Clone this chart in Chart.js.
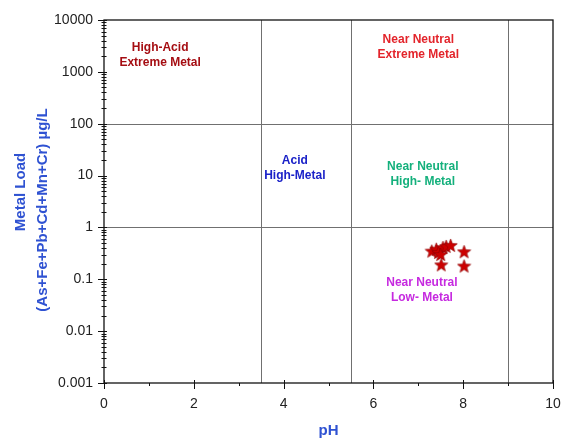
<!DOCTYPE html>
<html><head><meta charset="utf-8">
<script src="https://cdn.jsdelivr.net/npm/chart.js@4.4.1/dist/chart.umd.min.js"></script>
<style>html,body{margin:0;padding:0;background:#fff}#wrap{width:562px;height:439px}</style>
</head><body><div id="wrap"><canvas id="c" width="562" height="439"></canvas></div>
<script>
// ---- data ----
const phValues    = [7.30, 7.40, 7.45, 7.55, 7.62, 7.72, 7.50, 7.51, 8.02, 8.02];
const metalValues = [0.35, 0.38, 0.33, 0.41, 0.43, 0.45, 0.30, 0.19, 0.34, 0.18];
const xTicks = [0, 2, 4, 6, 8, 10];
const xMinorTicks = [1, 3, 5, 7, 9];
const yTicks = [0.001, 0.01, 0.1, 1, 10, 100, 1000, 10000];
const yTickLabels = ['0.001', '0.01', '0.1', '1', '10', '100', '1000', '10000'];
const yMinorMult = [2, 3, 4, 5, 6, 7, 8, 9];
const phBoundaries = [3.5, 5.5, 9];
const metalBoundaries = [1, 100];
const zoneLines = [
  ['High-Acid', 'Extreme Metal'],
  ['Near Neutral', 'Extreme Metal'],
  ['Acid', 'High-Metal'],
  ['Near Neutral', 'High- Metal'],
  ['Near Neutral', 'Low- Metal']
];
const zonePh    = [1.25, 7.0, 4.25, 7.1, 7.08];
const zoneMetal = [2100, 3000, 14, 10.5, 0.063];
const zoneColors = ['#a50d12', '#e3242b', '#1b22c8', '#14b07c', '#c629e0'];
const xTitle = 'pH';
const yTitle = ['Metal Load', '(As+Fe+Pb+Cd+Mn+Cr) µg/L'];

// star point image
function makeStar(size, fill, stroke) {
  const c = document.createElement('canvas');
  c.width = size; c.height = size;
  const g = c.getContext('2d');
  const cx = size / 2, cy = size / 2 + 0.5, R = size / 2 - 0.5, r = R * 0.42;
  g.beginPath();
  for (let i = 0; i < 10; i++) {
    const a = -Math.PI / 2 + i * Math.PI / 5;
    const rr = i % 2 === 0 ? R : r;
    const px = cx + rr * Math.cos(a), py = cy + rr * Math.sin(a);
    i === 0 ? g.moveTo(px, py) : g.lineTo(px, py);
  }
  g.closePath();
  g.fillStyle = fill; g.fill();
  g.strokeStyle = stroke; g.lineWidth = 0.6; g.stroke();
  return c;
}
const starImg = makeStar(15, '#cc0000', '#8a0000');

const decor = {
  id: 'decor',
  beforeDatasetsDraw(chart) {
    const ctx = chart.ctx, xs = chart.scales.x, ys = chart.scales.y, a = chart.chartArea;
    ctx.save();
    ctx.strokeStyle = '#707070'; ctx.lineWidth = 1;
    phBoundaries.forEach(v => {
      const px = Math.round(xs.getPixelForValue(v)) + 0.5;
      ctx.beginPath(); ctx.moveTo(px, a.top); ctx.lineTo(px, a.bottom); ctx.stroke();
    });
    metalBoundaries.forEach(v => {
      const py = Math.round(ys.getPixelForValue(v)) + 0.5;
      ctx.beginPath(); ctx.moveTo(a.left, py); ctx.lineTo(a.right, py); ctx.stroke();
    });
    ctx.font = 'bold 12px "Liberation Sans", Arial, sans-serif';
    ctx.textAlign = 'center'; ctx.textBaseline = 'middle';
    zoneLines.forEach((lines, i) => {
      const px = xs.getPixelForValue(zonePh[i]);
      const py = ys.getPixelForValue(zoneMetal[i]);
      ctx.fillStyle = zoneColors[i];
      ctx.fillText(lines[0], px, py - 7.5);
      ctx.fillText(lines[1], px, py + 7.5);
    });
    ctx.restore();
  },
  afterDraw(chart) {
    const ctx = chart.ctx, xs = chart.scales.x, ys = chart.scales.y, a = chart.chartArea;
    ctx.save();
    ctx.strokeStyle = '#111'; ctx.lineWidth = 1.3;
    ctx.strokeRect(a.left, a.top, a.right - a.left, a.bottom - a.top);
    ctx.lineWidth = 1;
    xTicks.forEach(v => {
      const px = Math.round(xs.getPixelForValue(v)) + 0.5;
      ctx.beginPath(); ctx.moveTo(px, a.bottom - 3); ctx.lineTo(px, a.bottom + 6); ctx.stroke();
    });
    xMinorTicks.forEach(v => {
      const px = Math.round(xs.getPixelForValue(v)) + 0.5;
      ctx.beginPath(); ctx.moveTo(px, a.bottom); ctx.lineTo(px, a.bottom + 3); ctx.stroke();
    });
    yTicks.forEach(v => {
      const py = Math.round(ys.getPixelForValue(v)) + 0.5;
      ctx.beginPath(); ctx.moveTo(a.left - 6, py); ctx.lineTo(a.left + 3, py); ctx.stroke();
    });
    yTicks.slice(0, -1).forEach(v => {
      yMinorMult.forEach(m => {
        const py = Math.round(ys.getPixelForValue(v * m)) + 0.5;
        ctx.beginPath(); ctx.moveTo(a.left - 2.5, py); ctx.lineTo(a.left + 2.5, py); ctx.stroke();
      });
    });
    ctx.fillStyle = '#2f52d2';
    ctx.font = 'bold 15px "Liberation Sans", Arial, sans-serif';
    ctx.textAlign = 'center'; ctx.textBaseline = 'middle';
    ctx.fillText(xTitle, (a.left + a.right) / 2, 431);
    ctx.save(); ctx.translate(21, 192); ctx.rotate(-Math.PI / 2); ctx.fillText(yTitle[0], 0, 0); ctx.restore();
    ctx.save(); ctx.translate(43, 210); ctx.rotate(-Math.PI / 2); ctx.fillText(yTitle[1], 0, 0); ctx.restore();
    ctx.restore();
  }
};

new Chart(document.getElementById('c'), {
  type: 'scatter',
  data: {
    datasets: [{
      data: phValues.map((x, i) => ({ x, y: metalValues[i] })),
      pointStyle: starImg,
      pointRadius: 7,
      pointHoverRadius: 7
    }]
  },
  options: {
    responsive: false,
    animation: false,
    devicePixelRatio: 1,
    layout: { padding: { top: 20, right: 9, left: 0, bottom: 0 } },
    plugins: { legend: { display: false }, tooltip: { enabled: false } },
    scales: {
      x: {
        type: 'linear', min: 0, max: 10,
        afterBuildTicks: s => { s.ticks = xTicks.map(v => ({ value: v })); },
        afterFit: s => { s.height = 56; s.paddingLeft = 0; s.paddingRight = 0; },
        grid: { display: false, drawTicks: false },
        border: { display: false },
        ticks: { padding: 13, color: '#222', font: { size: 14, family: '"Liberation Sans", Arial, sans-serif' }, maxRotation: 0, autoSkip: false }
      },
      y: {
        type: 'logarithmic', min: 0.001, max: 10000,
        afterBuildTicks: s => { s.ticks = yTicks.map(v => ({ value: v })); },
        afterFit: s => { s.width = 104; s.paddingTop = 0; s.paddingBottom = 0; },
        grid: { display: false, drawTicks: false },
        border: { display: false },
        ticks: {
          padding: 11, color: '#222', autoSkip: false,
          font: { size: 14, family: '"Liberation Sans", Arial, sans-serif' },
          callback: (v) => { const i = yTicks.findIndex(t => Math.abs(Math.log10(t) - Math.log10(v)) < 1e-6); return i >= 0 ? yTickLabels[i] : ''; }
        }
      }
    }
  },
  plugins: [decor]
});
</script></body></html>
